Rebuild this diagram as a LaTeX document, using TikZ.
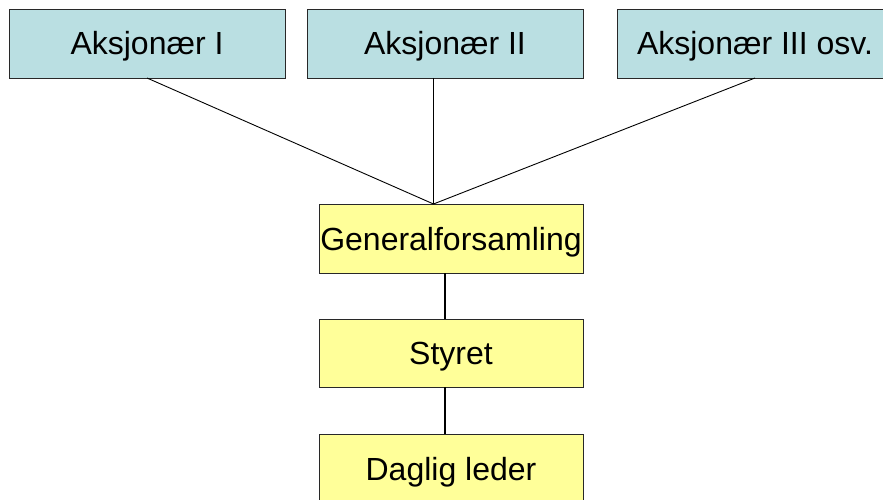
\documentclass[tikz,border=0pt]{standalone}
\usepackage{fontspec}
\setmainfont{Liberation Sans}
\definecolor{boxcyan}{RGB}{186,223,226}
\definecolor{boxyellow}{RGB}{255,255,153}
\definecolor{boxedge}{RGB}{40,40,40}
\begin{document}
\begin{tikzpicture}[x=1pt,y=-1pt,
  box/.style={draw=boxedge, line width=0.9pt, inner sep=0pt, outer sep=0pt,
    font=\fontsize{32}{36}\selectfont, text height=23pt, text depth=0pt},
  share/.style={box, fill=boxcyan, minimum width=276pt, minimum height=69pt},
  org/.style={box, fill=boxyellow, minimum width=264pt, minimum height=69pt},
  thin/.style={draw=black, line width=0.9pt},
  thick/.style={draw=black, line width=2.6pt}]
\useasboundingbox (0,0) rectangle (883,500);
\clip (0,0) rectangle (883,500);
\node[share] (A1) at (147,43.5) {Aksjonær I};
\node[share] (A2) at (445,43.5) {Aksjonær II};
\node[share] (A3) at (755,43.5) {Aksjonær III osv.};
\node[org] (G) at (451,238.5) {Generalforsamling};
\node[org, minimum height=68pt] (S) at (451,353) {Styret};
\node[org] (D) at (451,468.5) {Daglig leder};
\coordinate (J) at ([xshift=-17.5pt]G.north);
\draw[thin] (A1.south) -- (J);
\draw[thin] (A2.south -| J) -- (J);
\draw[thin] (A3.south) -- (J);
\draw[thick] ([xshift=-6pt]G.south) -- ([xshift=-6pt]S.north);
\draw[thick] ([xshift=-6pt]S.south) -- ([xshift=-6pt]D.north);
\end{tikzpicture}
\end{document}
